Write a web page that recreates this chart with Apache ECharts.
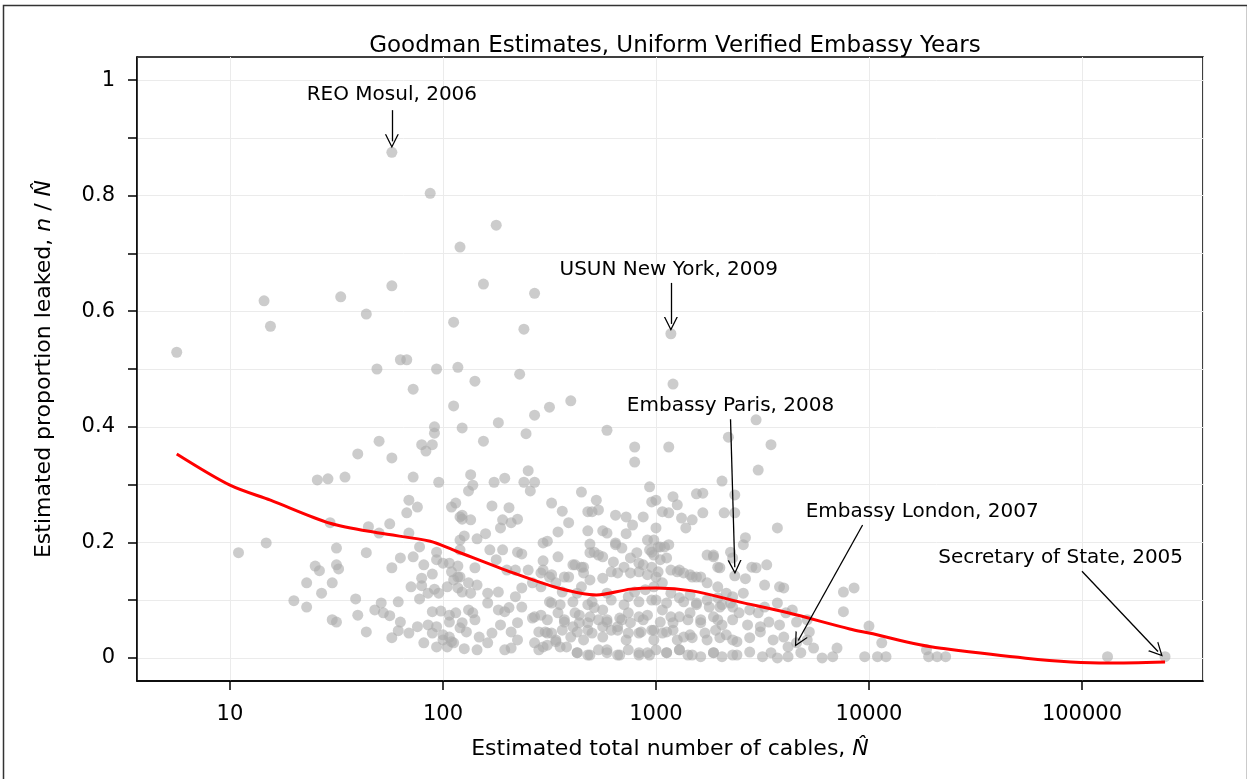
<!DOCTYPE html>
<html>
<head>
<meta charset="utf-8">
<script src="https://cdn.jsdelivr.net/npm/echarts@6.0.0/dist/echarts.min.js"></script>
<style>
  html, body { margin: 0; padding: 0; background: #fff; }
  #chart { width: 1247px; height: 779px; }
</style>
</head>
<body>
<div id="chart"></div>
<script>
// Goodman estimates per embassy-year as [log10(N hat), n / N hat]
const pointsBelow20 = [
  [0.75, 0.529], [1.04, 0.182], [1.16, 0.618], [1.17, 0.199], [1.19, 0.574], [1.30, 0.099]
]
const points20to60 = [
  [1.36, 0.088], [1.36, 0.130], [1.40, 0.159], [1.41, 0.308], [1.42, 0.151], [1.43, 0.112],
  [1.46, 0.310], [1.47, 0.234], [1.48, 0.066], [1.48, 0.130], [1.50, 0.190], [1.50, 0.161],
  [1.50, 0.062], [1.51, 0.154], [1.52, 0.625], [1.54, 0.313], [1.59, 0.102], [1.60, 0.353],
  [1.60, 0.074], [1.64, 0.595], [1.64, 0.182], [1.64, 0.045], [1.65, 0.227], [1.68, 0.083],
  [1.69, 0.500], [1.70, 0.375], [1.70, 0.216], [1.71, 0.095], [1.72, 0.078], [1.75, 0.232],
  [1.75, 0.073], [1.76, 0.644], [1.76, 0.875], [1.76, 0.346], [1.76, 0.156], [1.76, 0.035],
  [1.79, 0.097], [1.79, 0.047], [1.80, 0.173]
]
const points60to110 = [
  [1.80, 0.516], [1.80, 0.062], [1.83, 0.251], [1.83, 0.516], [1.84, 0.273], [1.84, 0.216],
  [1.84, 0.043], [1.85, 0.123], [1.86, 0.465], [1.86, 0.313], [1.86, 0.175], [1.88, 0.261],
  [1.88, 0.054], [1.89, 0.192], [1.89, 0.102], [1.90, 0.369], [1.90, 0.138], [1.90, 0.125],
  [1.91, 0.161], [1.91, 0.026], [1.92, 0.358], [1.93, 0.057], [1.93, 0.112], [1.94, 0.804],
  [1.95, 0.145], [1.95, 0.080], [1.95, 0.369], [1.95, 0.043], [1.96, 0.119], [1.96, 0.400],
  [1.96, 0.389], [1.97, 0.183], [1.97, 0.500], [1.97, 0.170], [1.97, 0.054], [1.97, 0.019],
  [1.98, 0.304], [1.98, 0.112], [1.99, 0.081], [2.00, 0.040], [2.00, 0.164], [2.00, 0.031],
  [2.02, 0.019], [2.02, 0.123], [2.03, 0.164], [2.03, 0.074], [2.03, 0.062], [2.03, 0.036],
  [2.04, 0.261], [2.04, 0.149], [2.04, 0.028], [2.05, 0.581], [2.05, 0.436], [2.05, 0.135],
  [2.05, 0.026], [2.06, 0.268]
]
const points110to230 = [
  [2.06, 0.078], [2.07, 0.503], [2.07, 0.140], [2.07, 0.121], [2.07, 0.159], [2.08, 0.711],
  [2.08, 0.244], [2.08, 0.204], [2.08, 0.187], [2.08, 0.140], [2.08, 0.052], [2.09, 0.240],
  [2.09, 0.114], [2.09, 0.398], [2.09, 0.247], [2.09, 0.061], [2.10, 0.211], [2.10, 0.016],
  [2.11, 0.045], [2.12, 0.130], [2.12, 0.083], [2.12, 0.289], [2.13, 0.239], [2.13, 0.112],
  [2.13, 0.317], [2.14, 0.299], [2.14, 0.078], [2.15, 0.156], [2.15, 0.066], [2.15, 0.479],
  [2.16, 0.206], [2.16, 0.014], [2.16, 0.126], [2.17, 0.036], [2.19, 0.375], [2.19, 0.647],
  [2.20, 0.215], [2.21, 0.112], [2.21, 0.095], [2.21, 0.026], [2.22, 0.187], [2.23, 0.263],
  [2.23, 0.043], [2.24, 0.304], [2.25, 0.749], [2.25, 0.170], [2.26, 0.114], [2.26, 0.083],
  [2.26, 0.407], [2.27, 0.225], [2.27, 0.057], [2.28, 0.239], [2.28, 0.187], [2.29, 0.311],
  [2.29, 0.014], [2.29, 0.080], [2.30, 0.152], [2.31, 0.087], [2.31, 0.260], [2.32, 0.234],
  [2.32, 0.045], [2.32, 0.017], [2.34, 0.152], [2.34, 0.106], [2.35, 0.240], [2.35, 0.183],
  [2.35, 0.031], [2.35, 0.061], [2.36, 0.491]
]
const points230to550 = [
  [2.37, 0.180], [2.37, 0.121], [2.37, 0.088], [2.38, 0.569], [2.38, 0.304], [2.39, 0.388],
  [2.40, 0.324], [2.40, 0.152], [2.41, 0.289], [2.42, 0.130], [2.42, 0.069], [2.43, 0.631],
  [2.43, 0.420], [2.43, 0.304], [2.43, 0.071], [2.43, 0.026], [2.45, 0.045], [2.45, 0.014],
  [2.46, 0.147], [2.46, 0.123], [2.46, 0.074], [2.47, 0.199], [2.47, 0.168], [2.48, 0.045],
  [2.49, 0.202], [2.49, 0.022], [2.50, 0.434], [2.51, 0.268], [2.51, 0.144], [2.51, 0.095],
  [2.51, 0.043], [2.53, 0.130], [2.53, 0.028], [2.54, 0.175], [2.54, 0.078], [2.54, 0.218],
  [2.56, 0.254], [2.56, 0.114], [2.56, 0.048], [2.57, 0.140], [2.57, 0.062], [2.58, 0.019],
  [2.59, 0.234], [2.60, 0.445], [2.61, 0.054], [2.61, 0.161], [2.62, 0.078], [2.63, 0.112],
  [2.63, 0.045], [2.63, 0.009], [2.64, 0.074], [2.65, 0.287], [2.65, 0.157], [2.65, 0.123],
  [2.66, 0.147], [2.68, 0.253], [2.68, 0.220], [2.68, 0.061], [2.68, 0.048], [2.68, 0.005],
  [2.69, 0.197], [2.69, 0.182], [2.69, 0.135], [2.70, 0.253], [2.70, 0.097], [2.71, 0.183],
  [2.72, 0.273], [2.73, 0.066], [2.73, 0.014], [2.73, 0.256]
]
const points550to1000 = [
  [2.75, 0.175], [2.75, 0.138], [2.75, 0.054], [2.75, 0.220], [2.77, 0.394], [2.77, 0.216],
  [2.77, 0.112], [2.77, 0.062], [2.77, 0.009], [2.79, 0.149], [2.79, 0.100], [2.79, 0.048],
  [2.81, 0.199], [2.81, 0.247], [2.82, 0.147], [2.82, 0.054], [2.82, 0.005], [2.84, 0.190],
  [2.84, 0.066], [2.86, 0.215], [2.86, 0.244], [2.87, 0.106], [2.87, 0.078], [2.87, 0.043],
  [2.87, 0.014], [2.88, 0.173], [2.89, 0.230], [2.90, 0.339], [2.90, 0.365], [2.90, 0.114],
  [2.91, 0.182], [2.92, 0.005], [2.92, 0.149], [2.92, 0.071], [2.93, 0.045], [2.94, 0.161],
  [2.94, 0.244], [2.95, 0.118], [2.96, 0.204], [2.96, 0.074], [2.96, 0.009], [2.97, 0.296],
  [2.98, 0.270], [2.98, 0.183], [2.98, 0.157], [2.98, 0.100], [2.98, 0.048]
]
const points1000to9000 = [
  [2.99, 0.204], [2.99, 0.178], [2.99, 0.123], [2.99, 0.048], [3.00, 0.273], [3.00, 0.225],
  [3.00, 0.140], [3.00, 0.100], [3.00, 0.014], [3.01, 0.192], [3.02, 0.170], [3.03, 0.253],
  [3.03, 0.083], [3.03, 0.130], [3.03, 0.043], [3.04, 0.192], [3.05, 0.009], [3.06, 0.365],
  [3.06, 0.251], [3.06, 0.196], [3.07, 0.561], [3.07, 0.152], [3.07, 0.112], [3.07, 0.071],
  [3.08, 0.474], [3.08, 0.279], [3.08, 0.048], [3.10, 0.265], [3.10, 0.149], [3.11, 0.104],
  [3.11, 0.071], [3.11, 0.014], [3.12, 0.242], [3.13, 0.147], [3.13, 0.036], [3.14, 0.225],
  [3.15, 0.005], [3.16, 0.109], [3.16, 0.078], [3.17, 0.140], [3.17, 0.239], [3.17, 0.035],
  [3.19, 0.284], [3.19, 0.095], [3.21, 0.140], [3.21, 0.066], [3.21, 0.002], [3.22, 0.251],
  [3.22, 0.285], [3.23, 0.043], [3.24, 0.178], [3.24, 0.130], [3.24, 0.100], [3.27, 0.175],
  [3.27, 0.071], [3.27, 0.009], [3.28, 0.048], [3.29, 0.157], [3.29, 0.123], [3.29, 0.104],
  [3.30, 0.088], [3.31, 0.306], [3.31, 0.057], [3.31, 0.002], [3.32, 0.251], [3.33, 0.112],
  [3.33, 0.040], [3.34, 0.382], [3.35, 0.183], [3.35, 0.095], [3.36, 0.173], [3.36, 0.106],
  [3.36, 0.066], [3.37, 0.282], [3.37, 0.251], [3.37, 0.142], [3.38, 0.028], [3.38, 0.005],
  [3.39, 0.078], [3.41, 0.112], [3.41, 0.196], [3.42, 0.208], [3.42, 0.137], [3.43, 0.057],
  [3.44, 0.083], [3.44, 0.035], [3.44, 0.010], [3.45, 0.157], [3.47, 0.412], [3.47, 0.156],
  [3.48, 0.325], [3.48, 0.078], [3.49, 0.054], [3.49, 0.045], [3.50, 0.002], [3.51, 0.126],
  [3.51, 0.088], [3.52, 0.161], [3.53, 0.062], [3.54, 0.009], [3.54, 0.369], [3.55, 0.031],
  [3.57, 0.095], [3.57, 0.000], [3.57, 0.225], [3.58, 0.123], [3.58, 0.057], [3.60, 0.036],
  [3.60, 0.121], [3.61, 0.078], [3.62, 0.019], [3.62, 0.002], [3.64, 0.083], [3.66, 0.062],
  [3.66, 0.026], [3.68, 0.009], [3.71, 0.066], [3.71, 0.031], [3.72, 0.045], [3.74, 0.017],
  [3.78, 0.000], [3.83, 0.002], [3.85, 0.017], [3.88, 0.114], [3.88, 0.080], [3.93, 0.121]
]
// the crowded core around N = 300 .. 2500, low proportions
const pointsDenseCore = [
  [2.81, 0.196], [2.73, 0.178], [2.62, 0.161], [2.66, 0.157], [2.80, 0.166], [2.85, 0.157],
  [2.92, 0.164], [2.97, 0.187], [3.02, 0.192], [3.05, 0.173], [3.11, 0.152], [3.16, 0.144],
  [3.27, 0.178], [3.30, 0.156], [2.47, 0.152], [2.50, 0.140], [2.59, 0.140], [2.88, 0.147],
  [2.96, 0.144], [3.01, 0.149], [3.19, 0.140], [2.50, 0.097], [2.55, 0.092], [2.61, 0.097],
  [2.68, 0.092], [2.71, 0.087], [2.75, 0.083], [2.85, 0.092], [2.92, 0.097], [3.05, 0.095],
  [3.13, 0.097], [3.19, 0.092], [3.25, 0.088], [3.31, 0.092], [3.36, 0.088], [2.49, 0.066],
  [2.57, 0.066], [2.64, 0.061], [2.69, 0.071], [2.77, 0.066], [2.83, 0.069], [2.88, 0.061],
  [2.94, 0.066], [3.02, 0.062], [3.08, 0.061], [3.15, 0.066], [3.21, 0.061], [3.29, 0.066],
  [2.49, 0.043], [2.53, 0.031], [2.60, 0.036], [2.66, 0.031], [2.70, 0.043], [2.75, 0.036],
  [2.82, 0.048], [2.86, 0.031], [2.92, 0.043], [2.99, 0.031], [3.05, 0.045], [3.10, 0.031],
  [3.16, 0.040], [3.24, 0.031], [3.30, 0.035], [3.36, 0.031], [2.47, 0.019], [2.55, 0.019],
  [2.63, 0.009], [2.69, 0.005], [2.77, 0.014], [2.83, 0.005], [2.92, 0.009], [2.97, 0.005],
  [3.05, 0.009], [3.11, 0.014], [3.17, 0.005], [3.27, 0.009], [3.36, 0.005]
]
const pointsAbove9000 = [
  [3.98, 0.002], [4.00, 0.055], [4.04, 0.002], [4.06, 0.026], [4.08, 0.002], [4.27, 0.014],
  [4.28, 0.002], [4.32, 0.002], [4.36, 0.002], [5.12, 0.002], [5.39, 0.002]
]

// smoothed (lowess) trend
const trendLogN = [0.75, 1.00, 1.19, 1.47, 1.70, 1.94, 2.06, 2.33, 2.54, 2.72, 2.88, 3.00, 3.17, 3.39, 3.62, 3.91, 4.00, 4.33, 5.12, 5.39]
const trendProp = [0.353, 0.299, 0.273, 0.233, 0.216, 0.202, 0.185, 0.147, 0.121, 0.109, 0.119, 0.121, 0.116, 0.097, 0.078, 0.050, 0.043, 0.017, -0.009, -0.007]

// axis ticks
const yTickValues = [0, 0.1, 0.2, 0.3, 0.4, 0.5, 0.6, 0.7, 0.8, 0.9, 1]
const yLabelValues = [0, 0.2, 0.4, 0.6, 0.8, 1]

// annotations: label position, arrow start and arrow end
const annoNames = ['REO Mosul, 2006', 'USUN New York, 2009', 'Embassy Paris, 2008', 'Embassy London, 2007', 'Secretary of State, 2005']
const annoTextLogN = [1.76, 3.06, 3.35, 4.25, 4.90]
const annoTextProp = [0.974, 0.671, 0.436, 0.253, 0.173]
const arrowFromLogN = [1.76, 3.07, 3.35, 3.97, 5.00]
const arrowFromProp = [0.948, 0.649, 0.413, 0.230, 0.150]
const arrowToLogN = [1.76, 3.07, 3.37, 3.668, 5.357]
const arrowToProp = [0.894, 0.578, 0.157, 0.030, 0.011]

const fontFamily = 'DejaVu Sans'
const toN = l => Math.pow(10, l)

const allPoints = [].concat(pointsBelow20, points20to60, points60to110, points110to230,
  points230to550, points550to1000, points1000to9000, pointsDenseCore, pointsAbove9000)

const chart = echarts.init(document.getElementById('chart'))

const option = {
  animation: false,
  backgroundColor: '#fff',
  title: {
    text: 'Goodman Estimates, Uniform Verified Embassy Years',
    left: 670,
    top: 30,
    textAlign: 'center',
    textStyle: { fontFamily, fontSize: 23, fontWeight: 'normal', color: '#000' }
  },
  graphic: [
    {
      type: 'rect',
      left: 1,
      top: 3,
      shape: { width: 1244, height: 790 },
      style: { fill: 'none', stroke: '#333', lineWidth: 1.5 },
      silent: true
    }
  ],
  grid: {
    left: 137,
    right: 44,
    top: 57,
    bottom: 98,
    show: true,
    borderColor: '#000',
    borderWidth: 1.5,
    backgroundColor: 'transparent'
  },
  xAxis: {
    type: 'log',
    logBase: 10,
    min: 3.66,
    max: 370000,
    name: 'Estimated total number of cables, {i|N\u0302}',
    nameLocation: 'middle',
    nameGap: 57,
    nameTextStyle: {
      fontFamily, fontSize: 22, color: '#000',
      rich: { i: { fontFamily, fontSize: 22, fontStyle: 'italic', color: '#000' } }
    },
    axisLine: { show: true, onZero: false, lineStyle: { color: '#000', width: 1.5 } },
    axisTick: { show: true, length: 9, lineStyle: { color: '#000', width: 1.5 } },
    axisLabel: {
      fontFamily, fontSize: 21, color: '#000', margin: 23,
      showMinLabel: false, showMaxLabel: false,
      formatter: v => String(Math.round(v))
    },
    splitLine: { show: true, lineStyle: { color: '#ebebeb', width: 1 } }
  },
  yAxis: {
    type: 'value',
    min: -0.04,
    max: 1.04,
    name: 'Estimated proportion leaked, {i|n} / {i|N\u0302}',
    nameLocation: 'middle',
    nameGap: 82,
    nameTextStyle: {
      fontFamily, fontSize: 22, color: '#000',
      rich: { i: { fontFamily, fontSize: 22, fontStyle: 'italic', color: '#000' } }
    },
    axisLine: { show: true, onZero: false, lineStyle: { color: '#000', width: 1.5 } },
    axisTick: { show: true, length: 9, customValues: yTickValues, lineStyle: { color: '#000', width: 1.5 } },
    axisLabel: {
      fontFamily, fontSize: 21, color: '#000', margin: 22,
      customValues: yLabelValues,
      formatter: v => String(Math.round(v * 10) / 10)
    },
    splitLine: { show: true, lineStyle: { color: '#ebebeb', width: 1 } }
  },
  series: [
    {
      name: 'Embassy years',
      type: 'scatter',
      symbolSize: 11,
      itemStyle: { color: 'rgba(170, 170, 170, 0.6)', opacity: 1 },
      data: allPoints.map(d => [toN(d[0]), d[1]]),
      z: 2
    },
    {
      name: 'Trend',
      type: 'line',
      smooth: 0.3,
      showSymbol: false,
      lineStyle: { color: '#ff0000', width: 3 },
      data: trendLogN.map((l, i) => [toN(l), trendProp[i]]),
      z: 3
    },
    {
      name: 'Annotations',
      type: 'scatter',
      symbolSize: 0,
      silent: true,
      itemStyle: { color: '#000', opacity: 1 },
      label: {
        show: true,
        position: 'inside',
        formatter: p => p.name,
        fontFamily, fontSize: 20, color: '#000',
        textBorderWidth: 0, textBorderColor: 'transparent'
      },
      data: annoNames.map((n, i) => ({ name: n, value: [toN(annoTextLogN[i]), annoTextProp[i]] })),
      markLine: {
        silent: true,
        symbol: ['none', 'path://M0,10 L5,0 L10,10 L9,10 L5,2 L1,10 Z'],
        symbolSize: 14,
        label: { show: false },
        lineStyle: { color: '#000', width: 1.3, type: 'solid' },
        data: annoNames.map((n, i) => [
          { coord: [toN(arrowFromLogN[i]), arrowFromProp[i]] },
          { coord: [toN(arrowToLogN[i]), arrowToProp[i]] }
        ])
      },
      z: 4
    }
  ]
}

chart.setOption(option)
</script>
</body>
</html>
